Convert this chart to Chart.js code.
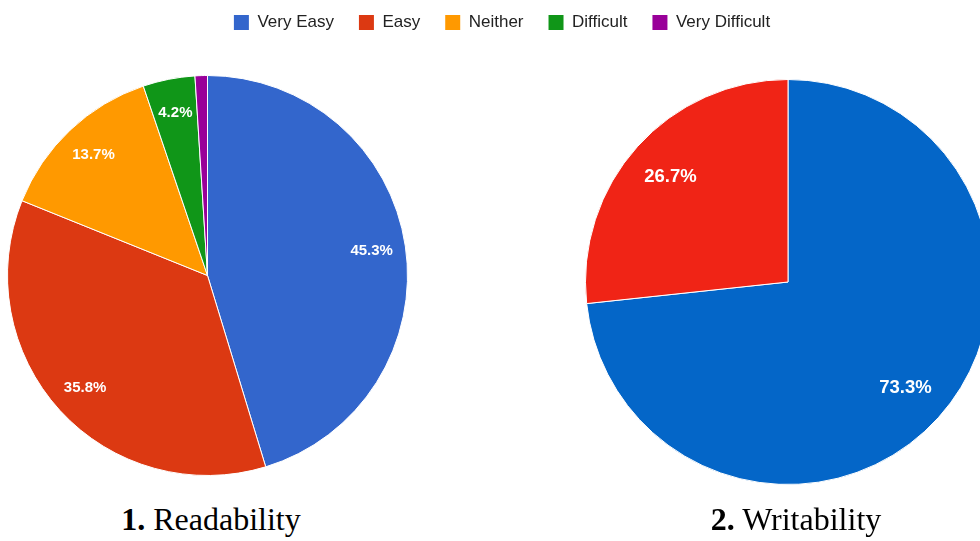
<!DOCTYPE html>
<html>
<head>
<meta charset="utf-8">
<script src="https://cdn.jsdelivr.net/npm/chart.js@4.4.1/dist/chart.umd.min.js"></script>
<style>
  html, body { margin: 0; padding: 0; background: #fff; overflow: hidden; }
  #pagina { position: relative; width: 980px; height: 541px; overflow: hidden; }
  canvas { position: absolute; }
  #leyenda { left: 12px; top: -11px; }
  #graficaLectura { left: 7px; top: 75px; }
  #graficaEscritura { left: 585px; top: 79px; }
  .titulo {
    position: absolute;
    top: 501px;
    width: 400px;
    text-align: center;
    font-family: "Liberation Serif", "Times New Roman", serif;
    font-size: 32px;
    color: #000;
    white-space: nowrap;
  }
</style>
</head>
<body>
<div id="pagina">
  <canvas id="leyenda" width="980" height="200"></canvas>
  <canvas id="graficaLectura" width="401" height="401"></canvas>
  <canvas id="graficaEscritura" width="406" height="406"></canvas>
  <div class="titulo" style="left: 11px;"><b>1.</b> Readability</div>
  <div class="titulo" style="left: 596px;"><b>2.</b> Writability</div>
</div>

<script>
const categorias = ["Very Easy", "Easy", "Neither", "Difficult", "Very Difficult"];
const colores = ["#3366cc", "#dc3912", "#ff9900", "#109618", "#990099"];

// Porcentajes de cada encuesta
const lectura = [45.3, 35.8, 13.7, 4.2, 1.0];

const categoriasEscritura = ["Very Easy", "Easy"];
const escritura = [73.3, 26.7];
const coloresEscritura = ["#0466c8", "#f02416"];

Chart.defaults.animation = false;
Chart.defaults.events = [];

// Porcentaje en blanco dentro de cada rebanada
const etiquetas = {
  id: "etiquetas",
  afterDatasetsDraw(chart, args, opts) {
    const ctx = chart.ctx;
    const datos = chart.data.datasets[0].data;
    ctx.save();
    ctx.fillStyle = "#fff";
    ctx.font = opts.font;
    ctx.textAlign = "center";
    ctx.textBaseline = "middle";
    chart.getDatasetMeta(0).data.forEach((arco, i) => {
      if (datos[i] < opts.minimo) return;
      const p = arco.getProps(["x", "y", "startAngle", "endAngle", "outerRadius"], true);
      const medio = (p.startAngle + p.endAngle) / 2;
      const r = p.outerRadius * opts.factor;
      ctx.fillText(datos[i].toFixed(1) + "%", p.x + Math.cos(medio) * r, p.y + Math.sin(medio) * r);
    });
    ctx.restore();
  }
};

function crearPastel(id, labels, data, backgroundColor, etiquetasOpts) {
  return new Chart(document.getElementById(id), {
    type: "pie",
    data: {
      labels: labels,
      datasets: [{
        data: data,
        backgroundColor: backgroundColor,
        borderColor: "#fff",
        borderWidth: 1
      }]
    },
    options: {
      responsive: false,
      layout: { padding: 0 },
      plugins: {
        legend: { display: false },
        tooltip: { enabled: false },
        etiquetas: etiquetasOpts
      }
    },
    plugins: [etiquetas]
  });
}

crearPastel("graficaLectura", categorias, lectura, colores,
  { font: "bold 15px 'Liberation Sans', Arial, sans-serif", factor: 0.83, minimo: 2 });

crearPastel("graficaEscritura", categoriasEscritura, escritura, coloresEscritura,
  { font: "bold 18.5px 'Liberation Sans', Arial, sans-serif", factor: 0.78, minimo: 2 });

// Leyenda compartida: solo se dibuja la leyenda, no el pastel
new Chart(document.getElementById("leyenda"), {
  type: "pie",
  data: {
    labels: categorias,
    datasets: [{ data: lectura, backgroundColor: colores, borderWidth: 0 }]
  },
  options: {
    responsive: false,
    plugins: {
      legend: {
        position: "top",
        labels: {
          boxWidth: 15,
          boxHeight: 15,
          padding: 25,
          color: "#222",
          font: { family: "'Liberation Sans', Arial, sans-serif", size: 17 }
        }
      },
      tooltip: { enabled: false }
    }
  },
  plugins: [{ id: "sinPastel", beforeDatasetsDraw: () => false }]
});
</script>
</body>
</html>
